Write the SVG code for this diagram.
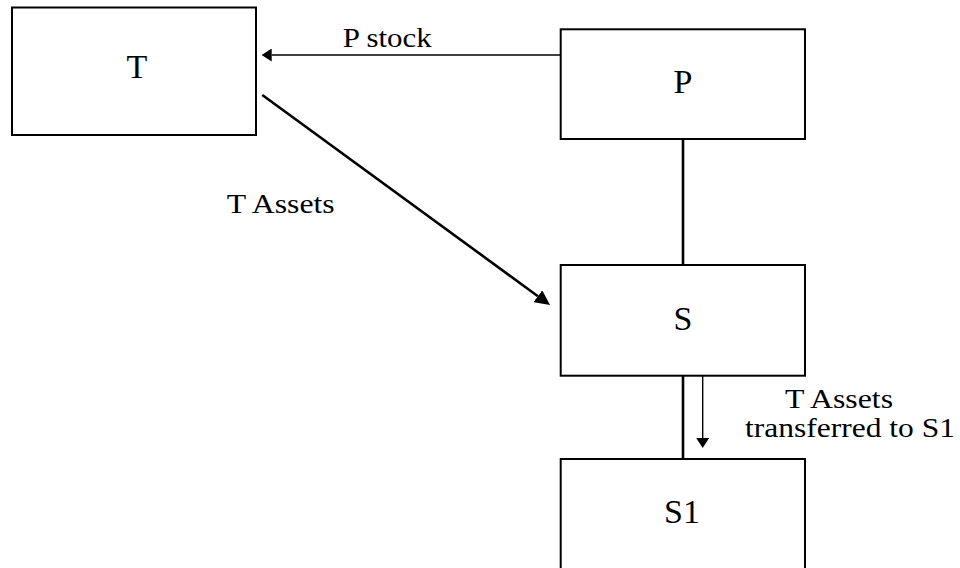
<svg xmlns="http://www.w3.org/2000/svg" width="960" height="568" viewBox="0 0 960 568">
<style>
.box{fill:#fff;stroke:#000;stroke-width:2}
.nl{font-family:"Liberation Serif","Times New Roman",Times,serif;font-size:34px;fill:#000;text-anchor:middle}
.el{font-family:"Liberation Serif","Times New Roman",Times,serif;font-size:28px;fill:#000}
.thin{stroke:#000;stroke-width:1.4;fill:none}
.thick{stroke:#000;stroke-width:2.6;fill:none}
</style>
<defs>
<marker id="arrS" markerUnits="userSpaceOnUse" markerWidth="10" markerHeight="13" refX="0" refY="6.5" orient="auto" viewBox="0 0 10 13">
<path d="M0,0 L10,6.5 L0,13 z" fill="#000"/>
</marker>
<marker id="arrL" markerUnits="userSpaceOnUse" markerWidth="15" markerHeight="14.6" refX="0" refY="7.3" orient="auto" viewBox="0 0 15 14.6">
<path d="M0,0 L15,7.3 L0,14.6 z" fill="#000"/>
</marker>
</defs>
<rect width="960" height="568" fill="#fff"/>
<g id="connectors">
<line class="thin" x1="560.7" y1="55" x2="271.7" y2="55" marker-end="url(#arrS)"/>
<line class="thick" x1="262.3" y1="95" x2="537.9" y2="296.2" marker-end="url(#arrL)"/>
<line class="thick" x1="683" y1="139" x2="683" y2="265"/>
<line class="thick" x1="683" y1="375.7" x2="683" y2="459"/>
<line class="thin" x1="702.7" y1="375.7" x2="702.7" y2="438" marker-end="url(#arrS)"/>
<text class="el" x="342.7" y="46.7" textLength="89" lengthAdjust="spacingAndGlyphs">P stock</text>
<text class="el" x="226.7" y="213.3" textLength="108" lengthAdjust="spacingAndGlyphs">T Assets</text>
<text class="el" x="785" y="408.3" textLength="108" lengthAdjust="spacingAndGlyphs">T Assets</text>
<text class="el" x="745" y="436.7" textLength="210" lengthAdjust="spacingAndGlyphs">transferred to S1</text>
</g>
<g id="node-T">
<rect class="box" x="12" y="7.5" width="244" height="127.5"/>
<text class="nl" x="137" y="77.7">T</text>
</g>
<g id="node-P">
<rect class="box" x="560.7" y="29.3" width="244.3" height="109.7"/>
<text class="nl" x="683" y="93.3">P</text>
</g>
<g id="node-S">
<rect class="box" x="560.7" y="265" width="244.3" height="110.7"/>
<text class="nl" x="683" y="330">S</text>
</g>
<g id="node-S1">
<rect class="box" x="560.7" y="459" width="244.3" height="120"/>
<text class="nl" x="682" y="523.3">S1</text>
</g>
</svg>
